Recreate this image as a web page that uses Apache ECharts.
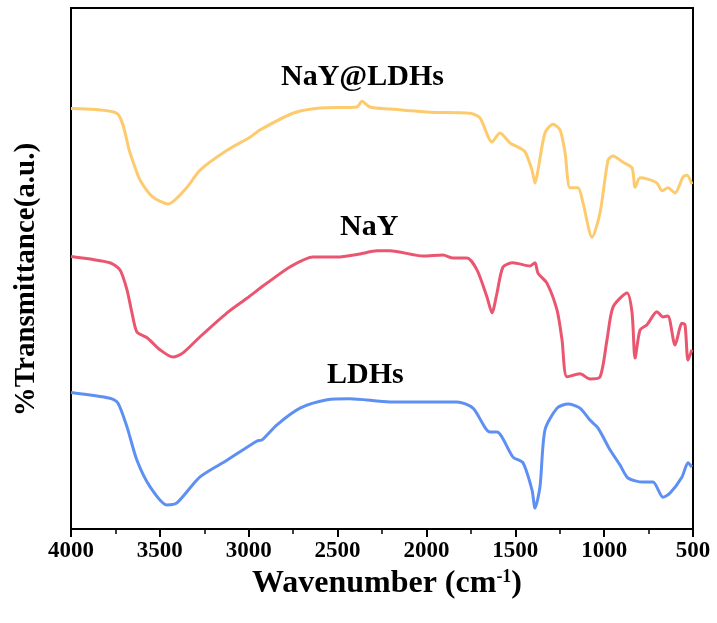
<!DOCTYPE html>
<html>
<head>
<meta charset="utf-8">
<script src="https://cdn.jsdelivr.net/npm/echarts@6/dist/echarts.min.js"></script>
<style>
  html, body { margin: 0; padding: 0; background: #fff; }
  #chart { width: 717px; height: 623px; }
</style>
</head>
<body>
<div id="chart"></div>
<script>
  // wavenumber (cm-1) and transmittance (a.u., offset per curve)
  var nayLdhsWave = [4000, 3743, 3668, 3612, 3539, 3454, 3347, 3274, 3122, 2993, 2936, 2751, 2599, 2391, 2363, 2318, 2205, 1980, 1755, 1699, 1631, 1586, 1530, 1473, 1445, 1406, 1389, 1372, 1333, 1288, 1248, 1220, 1192, 1147, 1119, 1068, 1023, 978, 950, 894, 843, 826, 798, 759, 703, 674, 641, 601, 556, 534, 506];
  var nayLdhsT = [80.7, 79.8, 72.2, 67.0, 63.7, 62.4, 65.6, 68.9, 72.7, 75.2, 76.6, 79.8, 80.8, 81.0, 82.1, 81.0, 80.6, 80.0, 79.8, 78.9, 74.3, 76.0, 74.1, 73.1, 72.4, 68.9, 66.4, 68.9, 76.0, 77.7, 76.6, 72.2, 65.5, 65.5, 62.6, 56.0, 60.7, 70.8, 71.6, 70.4, 69.3, 65.6, 67.4, 67.2, 66.4, 64.9, 65.5, 64.5, 67.6, 67.9, 66.2];

  var nayWave = [4000, 3781, 3724, 3685, 3657, 3629, 3572, 3499, 3426, 3370, 3274, 3122, 3010, 2897, 2768, 2638, 2503, 2374, 2278, 2205, 2019, 1907, 1850, 1772, 1715, 1659, 1631, 1603, 1569, 1513, 1417, 1389, 1372, 1322, 1265, 1237, 1209, 1136, 1080, 1023, 984, 950, 871, 843, 826, 798, 759, 703, 669, 641, 601, 562, 545, 528, 506];
  var nayT = [52.3, 51.1, 49.7, 45.9, 41.5, 37.8, 36.7, 34.4, 33.0, 33.8, 36.9, 41.5, 44.3, 47.2, 50.3, 52.2, 52.2, 52.8, 53.4, 53.4, 52.4, 52.6, 52.0, 52.0, 49.7, 44.5, 41.5, 45.3, 50.3, 51.1, 50.5, 51.1, 49.1, 47.2, 42.0, 36.3, 29.2, 29.8, 28.8, 29.2, 36.3, 42.6, 45.3, 41.5, 32.8, 38.2, 39.2, 41.7, 40.7, 40.9, 35.3, 39.5, 39.2, 32.4, 34.4];

  var ldhsWave = [4000, 3781, 3736, 3685, 3629, 3555, 3460, 3404, 3274, 3122, 2953, 2925, 2841, 2711, 2559, 2430, 2205, 2076, 1828, 1738, 1642, 1603, 1513, 1457, 1406, 1389, 1361, 1333, 1265, 1203, 1136, 1080, 1035, 967, 911, 866, 781, 725, 669, 629, 562, 528, 506];
  var ldhsT = [26.2, 25.1, 24.2, 19.6, 13.2, 8.1, 4.6, 5.0, 10.0, 13.2, 16.9, 17.1, 20.0, 23.2, 24.8, 25.0, 24.4, 24.4, 24.4, 23.2, 18.6, 18.6, 13.8, 12.7, 7.5, 4.0, 8.1, 19.0, 23.2, 24.0, 23.2, 20.9, 19.4, 15.2, 12.3, 9.8, 9.0, 9.0, 6.1, 6.9, 10.0, 12.7, 11.9];

  var seriesNames = ['NaY@LDHs', 'NaY', 'LDHs'];
  var seriesColors = ['#FDCB6E', '#EA5670', '#5E8FF2'];

  function zip(xs, ys) {
    var _ = [];
    xs.forEach(function (x, i) { _.push([x, ys[i]]); });
    return _;
  }

  var serif = '"Liberation Serif", "Times New Roman", serif';
  var chart = echarts.init(document.getElementById('chart'));

  chart.setOption({
    backgroundColor: '#fff',
    animation: false,
    grid: {
      left: 71,
      right: 24,
      top: 8,
      bottom: 94,
      show: true,
      borderColor: '#000',
      borderWidth: 2
    },
    xAxis: {
      type: 'value',
      inverse: true,
      min: 500,
      max: 4000,
      interval: 500,
      name: 'Wavenumber (cm{sup|-1})',
      nameLocation: 'middle',
      nameGap: 35,
      nameTextStyle: {
        fontFamily: serif,
        fontWeight: 'bold',
        fontSize: 32,
        color: '#000',
        padding: [0, 0, 0, 10],
        rich: {
          sup: { fontFamily: serif, fontWeight: 'bold', fontSize: 18, color: '#000', verticalAlign: 'top', padding: [0, 0, 13, 0] }
        }
      },
      axisLine: { show: true, lineStyle: { color: '#000', width: 2 } },
      axisTick: { show: true, inside: false, length: 8, lineStyle: { color: '#000', width: 2 } },
      minorTick: { show: true, splitNumber: 2, length: 5, lineStyle: { color: '#000', width: 1.5 } },
      axisLabel: {
        margin: 11,
        fontFamily: serif,
        fontWeight: 'bold',
        fontSize: 23,
        color: '#000',
        formatter: function (v) { return String(v); }
      },
      splitLine: { show: false }
    },
    yAxis: {
      type: 'value',
      min: 0,
      max: 100,
      name: '%Transmittance(a.u.)',
      nameLocation: 'middle',
      nameGap: 30,
      nameTextStyle: {
        fontFamily: serif,
        fontWeight: 'bold',
        fontSize: 29,
        color: '#000',
        padding: [0, 22, 0, 0]
      },
      axisLine: { show: true, lineStyle: { color: '#000', width: 2 } },
      axisTick: { show: false },
      axisLabel: { show: false },
      splitLine: { show: false }
    },
    series: [
      { name: seriesNames[0], data: zip(nayLdhsWave, nayLdhsT) },
      { name: seriesNames[1], data: zip(nayWave, nayT) },
      { name: seriesNames[2], data: zip(ldhsWave, ldhsT) }
    ].map(function (s, i) {
      return {
        name: s.name,
        type: 'line',
        data: s.data,
        smooth: 0.25,
        showSymbol: false,
        lineStyle: { color: seriesColors[i], width: 3 },
        itemStyle: { color: seriesColors[i] }
      };
    }),
    graphic: [
      { type: 'text', left: 281, top: 62, style: { text: 'NaY@LDHs', font: 'bold 30px ' + serif, fill: '#000' } },
      { type: 'text', left: 340, top: 212, style: { text: 'NaY', font: 'bold 30px ' + serif, fill: '#000' } },
      { type: 'text', left: 327, top: 360, style: { text: 'LDHs', font: 'bold 30px ' + serif, fill: '#000' } }
    ]
  });
</script>
</body>
</html>
